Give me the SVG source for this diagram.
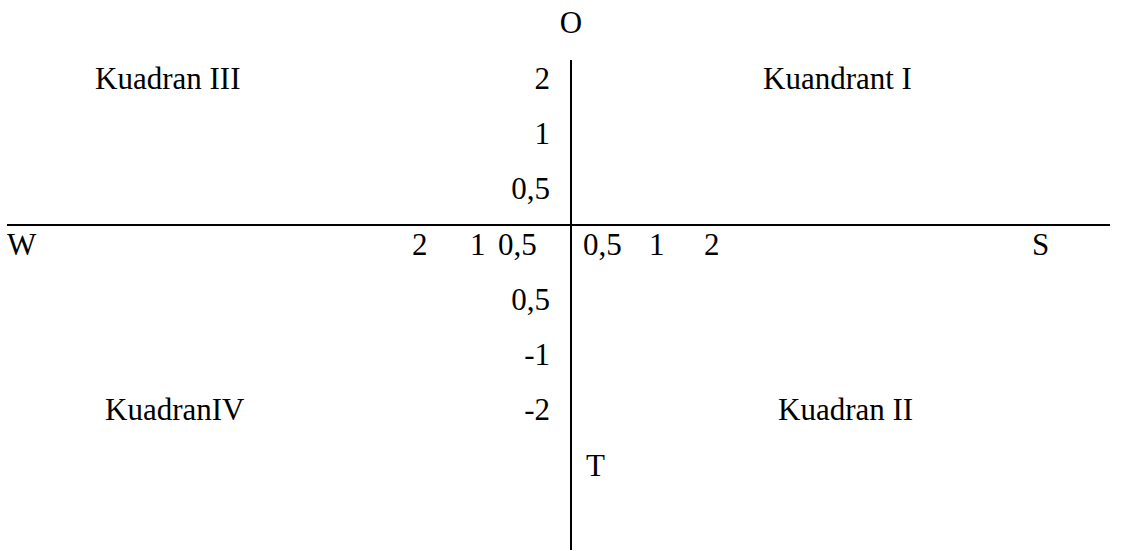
<svg xmlns="http://www.w3.org/2000/svg" width="1136" height="551" viewBox="0 0 1136 551">
<style>
text{font-family:"Liberation Serif","Times New Roman",serif;font-size:31px;fill:#000}
.r{text-anchor:end}
.ax{stroke:#000;stroke-width:2;fill:none}
</style>
<rect width="1136" height="551" fill="#fff"/>
<g id="axes">
<line class="ax" x1="7" y1="225" x2="1110" y2="225"/>
<line class="ax" x1="571" y1="60" x2="571" y2="550"/>
</g>
<g id="labels">
<text x="571" y="33" text-anchor="middle">O</text>
<text x="95" y="89">Kuadran III</text>
<text x="763" y="89">Kuandrant I</text>
<text x="105" y="420">KuadranIV</text>
<text x="778" y="420">Kuadran II</text>
<text x="586" y="476">T</text>
<text x="7" y="255">W</text>
<text x="1032" y="255">S</text>
</g>
<g id="ticks">
<text class="r" x="550" y="89">2</text>
<text class="r" x="550" y="144">1</text>
<text class="r" x="550" y="199">0,5</text>
<text class="r" x="550" y="310">0,5</text>
<text class="r" x="550" y="365">-1</text>
<text class="r" x="550" y="420">-2</text>
<text x="412" y="255">2</text>
<text x="470" y="255">1</text>
<text x="498" y="255">0,5</text>
<text x="583" y="255">0,5</text>
<text x="649" y="255">1</text>
<text x="704" y="255">2</text>
</g>
</svg>
